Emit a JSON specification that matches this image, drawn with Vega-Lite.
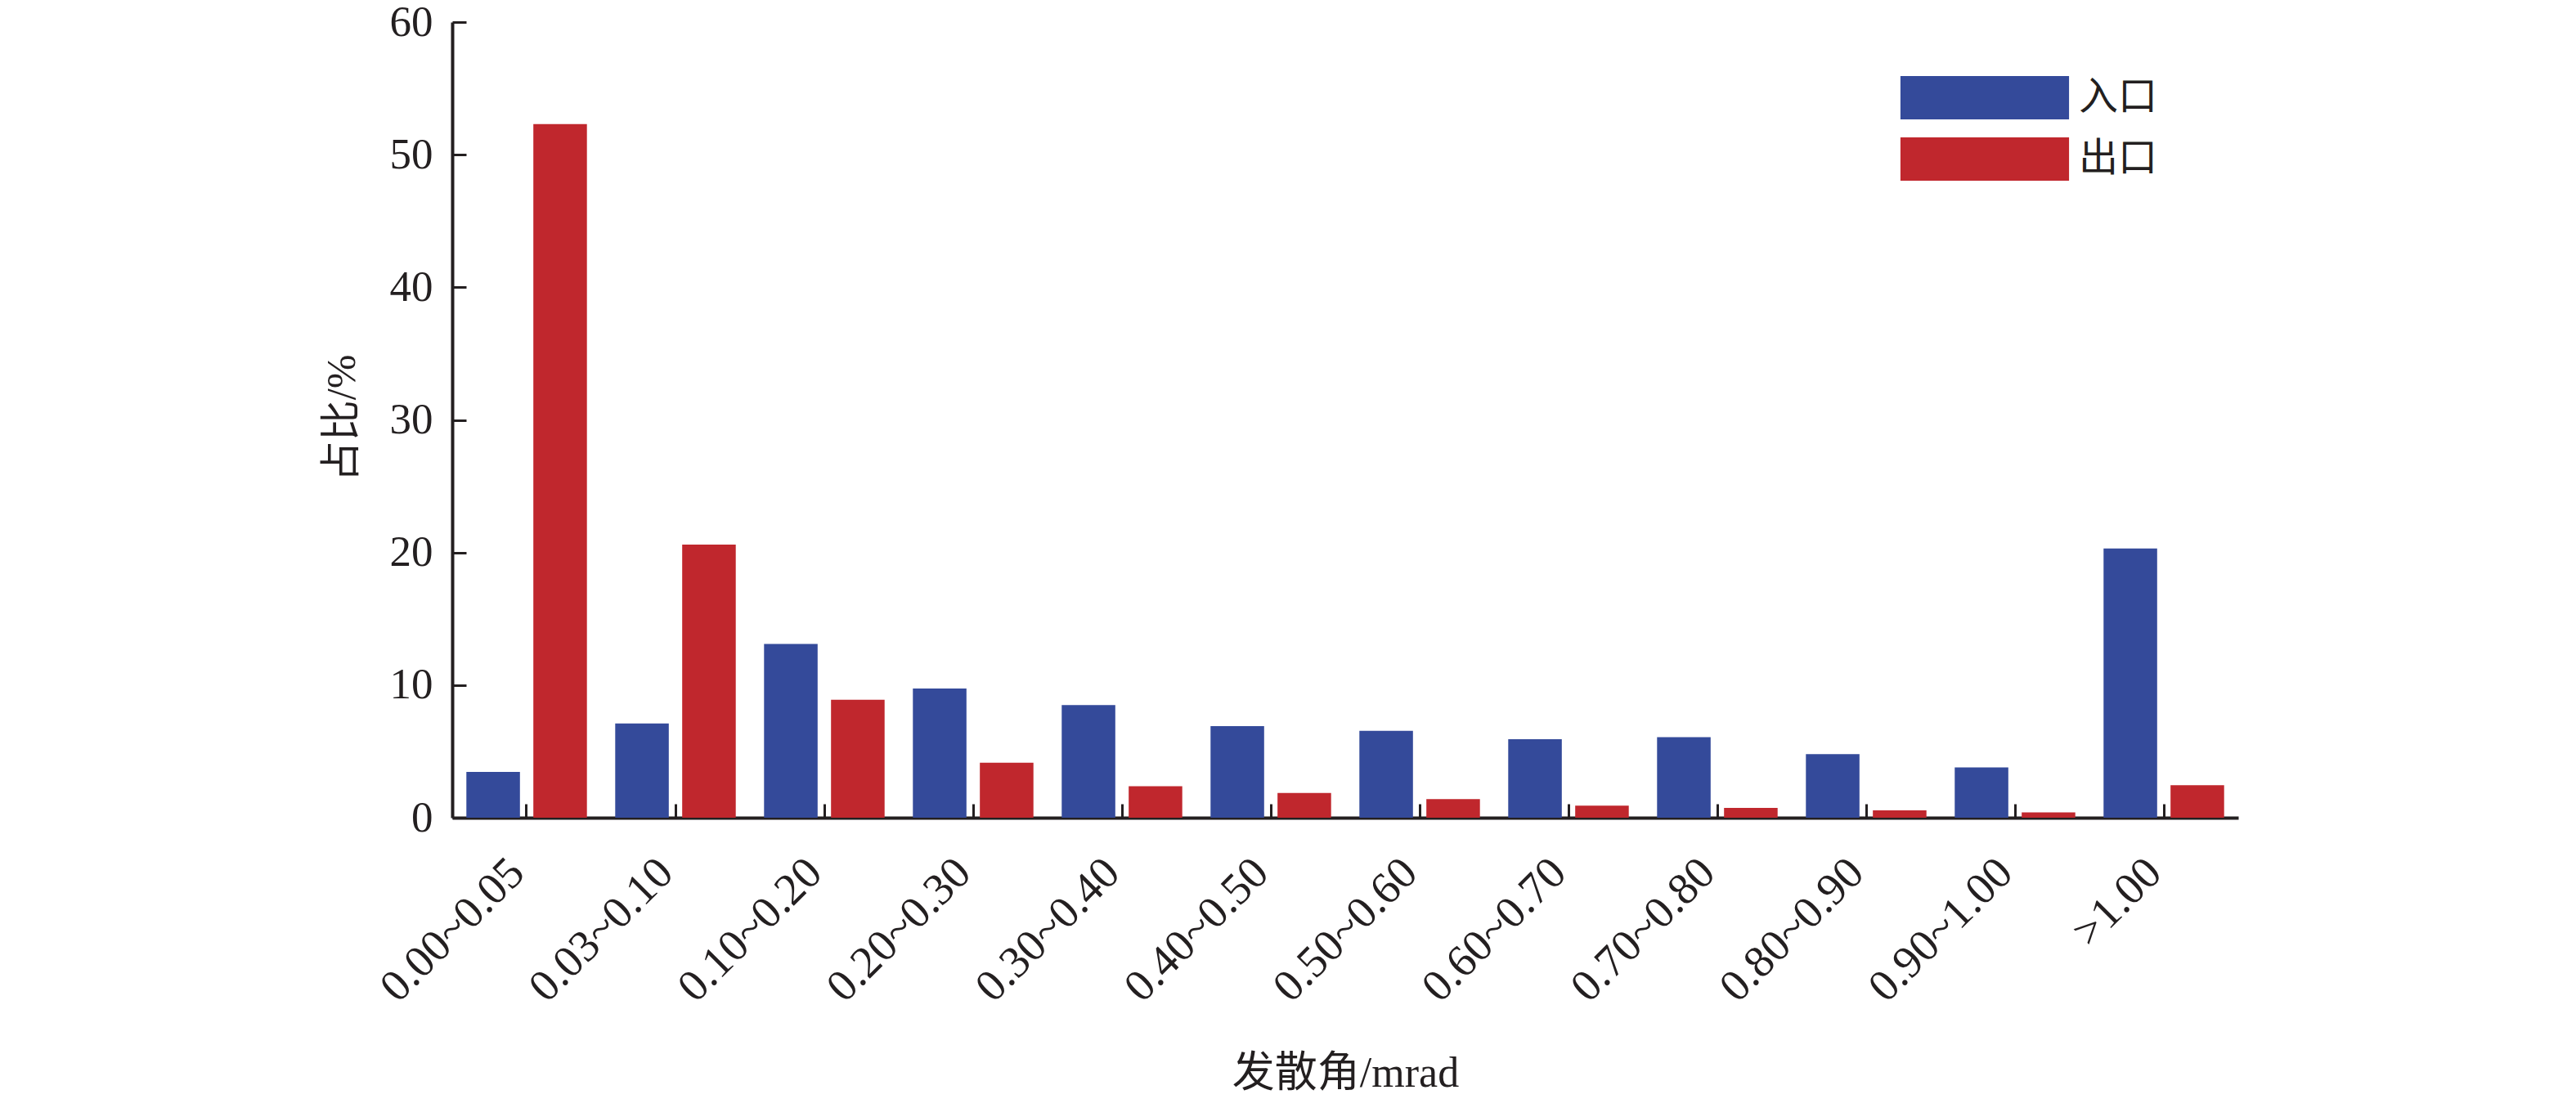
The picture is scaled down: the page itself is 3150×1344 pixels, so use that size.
{
  "$schema": "https://vega.github.io/schema/vega-lite/v6.json",
  "autosize": {"type": "none"},
  "padding": {"left": 553, "top": 27, "right": 413, "bottom": 344},
  "width": 2184,
  "height": 973,
  "background": "white",
  "data": {
    "values": [
      {"range": "0.00~0.05", "port": "入口", "pct": 3.45},
      {"range": "0.00~0.05", "port": "出口", "pct": 52.3},
      {"range": "0.03~0.10", "port": "入口", "pct": 7.1},
      {"range": "0.03~0.10", "port": "出口", "pct": 20.6},
      {"range": "0.10~0.20", "port": "入口", "pct": 13.1},
      {"range": "0.10~0.20", "port": "出口", "pct": 8.9},
      {"range": "0.20~0.30", "port": "入口", "pct": 9.75},
      {"range": "0.20~0.30", "port": "出口", "pct": 4.14},
      {"range": "0.30~0.40", "port": "入口", "pct": 8.5},
      {"range": "0.30~0.40", "port": "出口", "pct": 2.37},
      {"range": "0.40~0.50", "port": "入口", "pct": 6.9},
      {"range": "0.40~0.50", "port": "出口", "pct": 1.86},
      {"range": "0.50~0.60", "port": "入口", "pct": 6.55},
      {"range": "0.50~0.60", "port": "出口", "pct": 1.4},
      {"range": "0.60~0.70", "port": "入口", "pct": 5.92},
      {"range": "0.60~0.70", "port": "出口", "pct": 0.91},
      {"range": "0.70~0.80", "port": "入口", "pct": 6.07},
      {"range": "0.70~0.80", "port": "出口", "pct": 0.74},
      {"range": "0.80~0.90", "port": "入口", "pct": 4.8},
      {"range": "0.80~0.90", "port": "出口", "pct": 0.55},
      {"range": "0.90~1.00", "port": "入口", "pct": 3.8},
      {"range": "0.90~1.00", "port": "出口", "pct": 0.4},
      {"range": ">1.00", "port": "入口", "pct": 20.3},
      {"range": ">1.00", "port": "出口", "pct": 2.45}
    ]
  },
  "mark": {"type": "bar"},
  "encoding": {
    "x": {
      "field": "range",
      "type": "nominal",
      "sort": null,
      "scale": {"paddingInner": 0.19, "paddingOuter": 0.095},
      "axis": {
        "title": "发散角/mrad",
        "titleFontSize": 52,
        "titleFontWeight": "normal",
        "titleY": 312,
        "titleBaseline": "middle",
        "labelAngle": -45,
        "labelAlign": "right",
        "labelBaseline": "alphabetic",
        "labelFontSize": 55,
        "labelPadding": 87,
        "labelLimit": 0,
        "tickSize": -17,
        "tickWidth": 3,
        "domainWidth": 4
      }
    },
    "xOffset": {
      "field": "port",
      "type": "nominal",
      "sort": ["入口", "出口"],
      "scale": {"paddingInner": 0.2, "paddingOuter": 0}
    },
    "y": {
      "field": "pct",
      "type": "quantitative",
      "scale": {"domain": [0, 60], "nice": false},
      "axis": {
        "title": "占比/%",
        "titleFontSize": 50,
        "titleFontWeight": "normal",
        "titleX": -135,
        "titleY": 484,
        "titleAngle": -90,
        "titleAlign": "center",
        "titleBaseline": "middle",
        "values": [0, 10, 20, 30, 40, 50, 60],
        "labelFontSize": 53,
        "labelPadding": 41,
        "tickSize": -17,
        "tickWidth": 3,
        "domainWidth": 4,
        "grid": false
      }
    },
    "color": {
      "field": "port",
      "type": "nominal",
      "scale": {"domain": ["入口", "出口"], "range": ["#344a9a", "#c0272d"]},
      "legend": {
        "title": null,
        "orient": "none",
        "legendX": 1847.5,
        "legendY": 66,
        "padding": 0,
        "symbolType": "M-3.89,-1H3.89V1H-3.89Z",
        "symbolSize": 2809,
        "symbolStrokeWidth": 0,
        "symbolOpacity": 1,
        "labelOffset": 88.5,
        "labelFontSize": 48,
        "rowPadding": 22
      }
    }
  },
  "config": {
    "view": {"stroke": null},
    "font": "Liberation Serif, Noto Sans CJK SC",
    "axis": {
      "domainColor": "#231f20",
      "tickColor": "#231f20",
      "labelColor": "#231f20",
      "titleColor": "#231f20",
      "labelFont": "Liberation Serif, Noto Sans CJK SC",
      "titleFont": "Liberation Serif, Noto Sans CJK SC"
    },
    "legend": {
      "labelFont": "Liberation Serif, Noto Sans CJK SC",
      "labelColor": "#231f20"
    }
  }
}
